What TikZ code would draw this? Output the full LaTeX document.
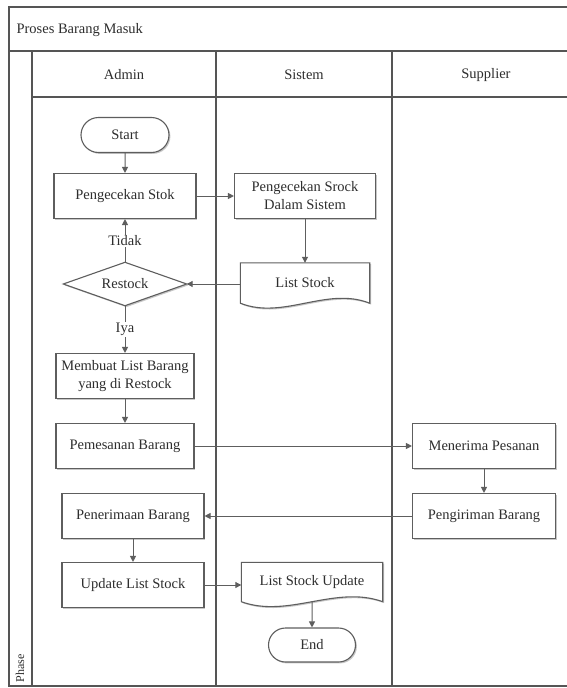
\documentclass[tikz,border=0pt]{standalone}
\usepackage{fontspec}
\setmainfont{Liberation Serif}
\usetikzlibrary{arrows.meta,shapes.misc,calc,shadows}

\definecolor{framegray}{HTML}{555555}
\definecolor{boxgray}{HTML}{5E5E5E}
\definecolor{inkgray}{HTML}{2E2E2E}

\tikzset{
  every node/.style={text=inkgray, font=\fontsize{14.5}{18}\selectfont},
  lane/.style={draw=framegray, line width=1.4pt},
  boxshadow/.style={drop shadow={shadow xshift=1.4pt, shadow yshift=-1.4pt, fill=black!22, opacity=1}},
  proc/.style={draw=boxgray, line width=1.1pt, fill=white, align=center,
    minimum width=#1, minimum height=45pt, inner sep=2pt, boxshadow},
  proc/.default=142pt,
  term/.style={rounded rectangle, draw=boxgray, line width=1.1pt, fill=white,
    minimum width=92pt, minimum height=35pt, inner sep=2pt, boxshadow},
  holder/.style={minimum width=#1, inner sep=0pt, align=center},
  outline/.style={draw=boxgray, line width=1.1pt, fill=white},
  flow/.style={draw=boxgray, line width=1pt, -{Triangle[length=6pt,width=6pt]}},
  lbl/.style={fill=white, inner sep=1pt},
}

% document symbol: straight top and sides, S-shaped wavy bottom
\newcommand{\docsymbol}[2]{%
  \fill[black!22, transform canvas={shift={(1.4pt,-1.4pt)}}]
    (#1.north west) -- (#1.north east) -- (#1.south east)
    .. controls ($(#1.south east)+(-#2/3,-17)$) and ($(#1.south west)+(#2/3,17)$) .. (#1.south west) -- cycle;
  \filldraw[outline]
    (#1.north west) -- (#1.north east) -- (#1.south east)
    .. controls ($(#1.south east)+(-#2/3,-17)$) and ($(#1.south west)+(#2/3,17)$) .. (#1.south west) -- cycle;
}

\begin{document}
\begin{tikzpicture}[x=1pt, y=-1pt]
  \clip (0,0) rectangle (567,688);
  \fill[white] (0,0) rectangle (567,688);

  % pool frame, title bar, lane headers and lane dividers
  \draw[lane] (9,7) rectangle (600,686);
  \draw[lane] (9,51) -- (600,51);
  \draw[lane] (32,97) -- (600,97);
  \draw[lane] (32,51) -- (32,686);
  \draw[lane] (216,51) -- (216,686);
  \draw[lane] (392,51) -- (392,686);

  \node[anchor=west] (title) at (13,30) {Proses Barang Masuk};
  \node (hAdmin) at (124,75) {Admin};
  \node (hSistem) at (304,75) {Sistem};
  \node (hSupplier) at (486,75) {Supplier};
  \node[rotate=90, font=\fontsize{12}{14}\selectfont] (phase) at (20,668) {Phase};

  % Admin lane
  \node[term] (start) at (125,135) {Start};
  \node[proc] (chk) at (125,196) {Pengecekan Stok};
  \node[holder=123pt, minimum height=43pt] (rst) at (125,284) {Restock};
  \fill[black!22, transform canvas={shift={(1.4pt,-1.4pt)}}]
    (rst.west) -- (rst.north) -- (rst.east) -- (rst.south) -- cycle;
  \filldraw[outline] (rst.west) -- (rst.north) -- (rst.east) -- (rst.south) -- cycle;
  \node (rstText) at (rst.center) {Restock};
  \node[proc=138pt] (memb) at (125,376) {Membuat List Barang\\yang di Restock};
  \node[proc=138pt] (pes) at (125,446) {Pemesanan Barang};
  \node[proc] (pen) at (133,516) {Penerimaan Barang};
  \node[proc] (upd) at (133,585) {Update List Stock};

  % Sistem lane
  \node[proc=141pt] (sys) at (305,196) {Pengecekan Srock\\Dalam Sistem};
  \node[holder=129pt, minimum height=40pt] (list) at (305,283) {};
  \docsymbol{list}{129}
  \node (listText) at (list.center) {List Stock};
  \node[holder=141pt, minimum height=39pt] (lsu) at (312,582) {};
  \docsymbol{lsu}{141}
  \node (lsuText) at (lsu.center) {List Stock Update};
  \node[term, minimum width=91pt, minimum height=34pt] (end) at (312,645) {End};

  % Supplier lane
  \node[proc=143pt] (ter) at (484,446) {Menerima Pesanan};
  \node[proc=143pt] (kir) at (484,516) {Pengiriman Barang};

  % flow
  \draw[flow] (start) -- (chk);
  \draw[flow] (chk) -- (sys);
  \draw[flow] (sys) -- (list.north);
  \draw[flow] (list.west |- rst.east) -- (rst.east);
  \draw[flow] (rst.north) -- node[lbl] {Tidak} (chk.south);
  \draw[flow] (rst.south) -- node[lbl] {Iya} (memb.north);
  \draw[flow] (memb) -- (pes);
  \draw[flow] (pes) -- (ter);
  \draw[flow] (ter) -- (kir);
  \draw[flow] (kir) -- (pen);
  \draw[flow] (pen) -- (upd);
  \draw[flow] (upd.east) -- (upd.east -| lsu.west);
  \draw[flow] (lsu.south) -- (end);
\end{tikzpicture}
\end{document}
